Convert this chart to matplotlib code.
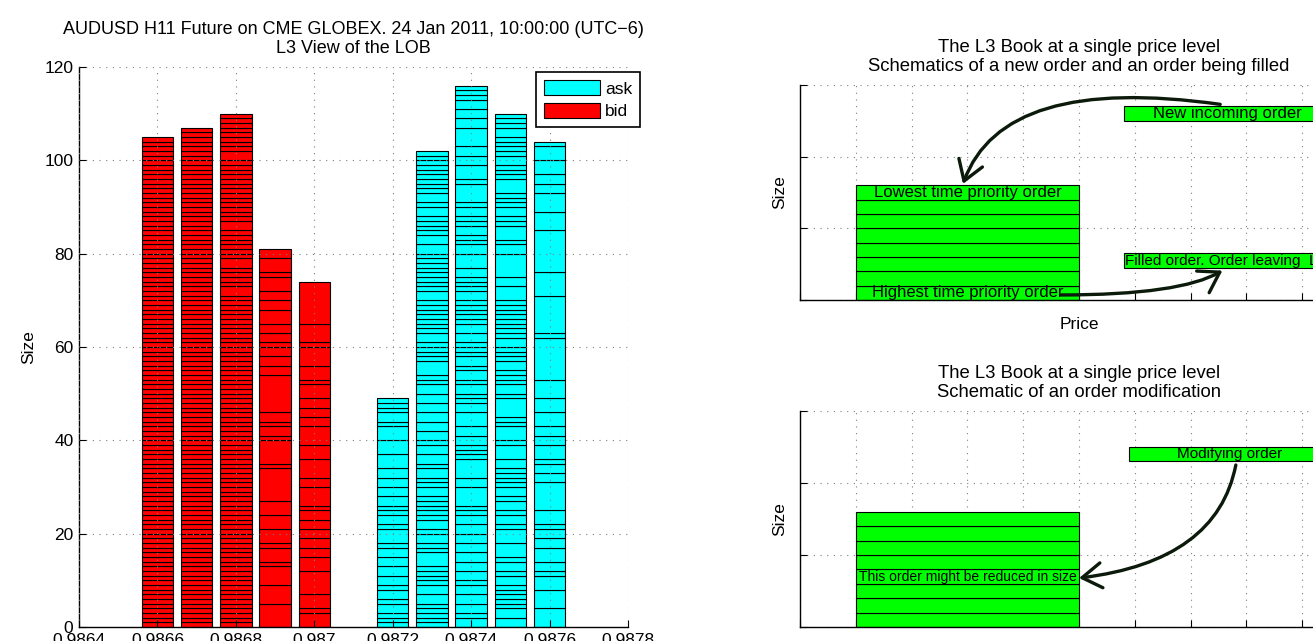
import matplotlib
matplotlib.use('Agg')
import matplotlib.pyplot as plt
from matplotlib.patches import FancyArrowPatch, Patch
import numpy as np

plt.rcParams['font.family'] = ['Liberation Sans', 'DejaVu Sans']

# L3 snapshot of the book: size of every resting order per price level,
# listed from the highest time priority (bottom) to the lowest (top)
bid_prices = [0.9866, 0.9867, 0.9868, 0.9869, 0.9870]
bid_orders = [
    [1] * 105,
    [1] * 107,
    [1] * 71 + [2] + [1] * 4 + [2] + [1] * 6 + [2] + [1] * 13 + [2] + [1] * 8,
    [5, 4, 4, 1, 3, 1, 3, 3, 3, 7, 1, 5, 1, 2, 1, 2, 8, 2, 2, 2, 1, 2, 2, 3,
     2, 2, 3, 1, 3, 2],
    [3, 1, 3, 5, 3, 2, 2, 2, 2, 2, 1, 4, 2, 4, 3, 4, 2, 2, 2, 3, 1, 3, 4, 1,
     4, 9],
]
bid_totals = [105, 107, 110, 81, 74]

ask_prices = [0.9872, 0.9873, 0.9874, 0.9875, 0.9876]
ask_orders = [
    [1, 1, 1, 2, 1, 2, 1, 2, 2, 2, 2, 1, 3, 1, 2, 1, 1, 2, 2, 2, 2, 3, 3, 3,
     1, 2, 1, 1, 1],
    [1, 1, 1, 1, 1, 2, 2, 1, 1, 1, 1, 3, 1, 1, 2, 1, 2, 1, 1, 1, 1, 1, 2, 1,
     1, 2, 1, 2, 2, 1, 2, 2, 2, 2, 2, 2, 1, 1, 3, 1, 1, 1, 1, 2, 1, 1, 1, 1,
     1, 1, 1, 2, 1, 1, 1, 1, 1, 1, 1, 1, 2, 2, 1, 1, 1, 1, 2, 1, 2, 1, 1, 1,
     1, 1, 1, 1, 1, 1],
    [2, 1, 2, 2, 2, 1, 2, 2, 2, 2, 2, 2, 2, 1, 1, 4, 2, 4, 1, 1, 1, 2, 2, 3,
     2, 1, 1, 2, 1, 2, 1, 2, 1, 1, 1, 2, 2, 1, 1, 1, 1, 1, 2, 1, 1, 1, 2, 3,
     2, 1, 1, 2, 1, 1, 2, 1, 4, 1, 3, 2, 2, 4, 2, 2, 2, 1, 1, 1],
    [2, 2, 1, 1, 1, 1, 1, 2, 1, 2, 1, 3, 3, 1, 2, 1, 2, 1, 2, 1, 1, 1, 1, 2,
     3, 1, 3, 1, 1, 4, 1, 2, 1, 1, 1, 2, 1, 1, 1, 2, 1, 1, 1, 1, 1, 1, 1, 1,
     3, 2, 5, 2, 1, 3, 1, 1, 2, 1, 1, 1, 3, 1, 1, 1, 2, 1, 1, 1, 1, 2, 1, 1,
     1],
    [4, 4, 3, 1, 2, 3, 2, 2, 1, 3, 6, 2, 2, 1, 3, 2, 2, 3, 3, 4, 9, 1, 8, 5,
     9, 4, 4, 2, 2, 3, 3, 1],
]
ask_totals = [49, 102, 116, 110, 104]

price_ticks = [0.9864, 0.9866, 0.9868, 0.9870, 0.9872, 0.9874, 0.9876, 0.9878]
price_tick_labels = ['0.9864', '0.9866', '0.9868', '0.987', '0.9872',
                     '0.9874', '0.9876', '0.9878']

# schematic price level: eight orders of equal size
level_orders = [0.2] * 8

for orders, total in zip(bid_orders + ask_orders, bid_totals + ask_totals):
    assert sum(orders) == total

BID_COLOR = '#ff0000'
ASK_COLOR = '#00ffff'
ORDER_COLOR = '#00ff00'
GRID_STYLE = dict(linestyle=(0, (1, 5)), color='#7f7f7f', linewidth=0.8)


def draw_level(ax, price, orders, width, color):
    """Stacks the individual orders of one price level."""
    sizes = np.asarray(orders, dtype=float)
    bottoms = np.concatenate([[0.0], np.cumsum(sizes)[:-1]])
    ax.bar(np.full(len(sizes), price), sizes, bottom=bottoms, width=width,
           color=color, edgecolor='black', linewidth=0.8)


def style_matlab_axes(ax):
    ax.spines['top'].set_visible(False)
    ax.spines['right'].set_visible(False)
    for side in ('left', 'bottom'):
        ax.spines[side].set_linewidth(1.0)
    ax.tick_params(direction='in', length=5, width=0.8)
    ax.grid(True, **GRID_STYLE)


def schematic_axes(fig, rect, title):
    ax = fig.add_axes(rect)
    ax.set_xlim(0, 10)
    ax.set_ylim(0, 3)
    ax.set_xticks(range(0, 11))
    ax.set_yticks(range(0, 4))
    style_matlab_axes(ax)
    ax.set_axisbelow(True)
    ax.tick_params(labelbottom=False, labelleft=False)
    ax.set_title(title, fontsize=13.3, pad=10)
    ax.set_xlabel('Price', fontsize=12.5, labelpad=12)
    ax.set_ylabel('Size', fontsize=12.5, labelpad=9)
    draw_level(ax, 3, level_orders, 4, ORDER_COLOR)
    return ax


def curved_arrow(ax, start, tip, angle_a, angle_b):
    arrow = FancyArrowPatch(start, tip,
                            connectionstyle=f'angle3,angleA={angle_a},'
                                            f'angleB={angle_b}',
                            arrowstyle='->,head_length=0.7,head_width=0.45',
                            mutation_scale=20, linewidth=2.4,
                            color='#0b1a0b', shrinkA=0, shrinkB=0)
    ax.add_patch(arrow)


fig = plt.figure(figsize=(13.13, 6.41), dpi=100)

# left: the full L3 view of the book
ax = fig.add_axes([0.0602, 0.0218, 0.4181, 0.8736])
for price, orders in zip(bid_prices, bid_orders):
    draw_level(ax, price, orders, 0.00008, BID_COLOR)
for price, orders in zip(ask_prices, ask_orders):
    draw_level(ax, price, orders, 0.00008, ASK_COLOR)
ax.set_xlim(0.9864, 0.9878)
ax.set_ylim(0, 120)
ax.set_xticks(price_ticks)
ax.set_xticklabels(price_tick_labels)
ax.set_yticks(range(0, 121, 20))
style_matlab_axes(ax)
ax.set_axisbelow(False)
ax.tick_params(labelsize=12.5, pad=4)
ax.set_ylabel('Size', fontsize=12.5, labelpad=6)
ax.set_title('AUDUSD H11 Future on CME GLOBEX. 24 Jan 2011, 10:00:00 '
             '(UTC\u22126)\nL3 View of the LOB', fontsize=13, pad=10)
handles = [Patch(facecolor=ASK_COLOR, edgecolor='black', linewidth=0.8,
                 label='ask'),
           Patch(facecolor=BID_COLOR, edgecolor='black', linewidth=0.8,
                 label='bid')]
legend = ax.legend(handles=handles, loc='upper right',
                   bbox_to_anchor=(1.0219, 0.991), borderaxespad=0,
                   fancybox=False, edgecolor='black', framealpha=1,
                   fontsize=12.5, handlelength=3.2, handleheight=1.0,
                   handletextpad=0.3, borderpad=0.45, labelspacing=0.35)
legend.get_frame().set_linewidth(1.2)

# top right: new order joins the back, oldest order gets filled
top = schematic_axes(fig, [0.6093, 0.532, 0.425, 0.3354],
                     'The L3 Book at a single price level\n'
                     'Schematics of a new order and an order being filled')
top.bar(5.8, 0.2, bottom=2.5, width=3.7, align='edge', color=ORDER_COLOR,
        edgecolor='black', linewidth=0.8)
top.bar(5.8, 0.2, bottom=0.45, width=3.7, align='edge', color=ORDER_COLOR,
        edgecolor='black', linewidth=0.8)
top.text(7.65, 2.6, 'New incoming order', ha='center', va='center',
         fontsize=12, clip_on=False)
top.text(5.83, 0.55, 'Filled order. Order leaving  LOB', ha='left',
         va='center', fontsize=11, clip_on=False)
top.text(3, 1.5, 'Lowest time priority order', ha='center', va='center',
         fontsize=12)
top.text(3, 0.1, 'Highest time priority order', ha='center', va='center',
         fontsize=12)
curved_arrow(top, (7.53, 2.73), (2.92, 1.62), 172, 70)
curved_arrow(top, (4.68, 0.07), (7.57, 0.41), 0, 30)

# bottom right: modification of a resting order
bottom = schematic_axes(fig, [0.6093, 0.0218, 0.425, 0.337],
                        'The L3 Book at a single price level\n'
                        'Schematic of an order modification')
bottom.bar(5.9, 0.2, bottom=2.3, width=3.6, align='edge', color=ORDER_COLOR,
           edgecolor='black', linewidth=0.8)
bottom.text(7.69, 2.4, 'Modifying order', ha='center', va='center',
            fontsize=11, clip_on=False)
bottom.text(3, 0.7, 'This order might be reduced in size', ha='center',
            va='center', fontsize=10)
curved_arrow(bottom, (7.81, 2.25), (5.0, 0.68), 79, 7)

fig.savefig('out.png', dpi=100)
